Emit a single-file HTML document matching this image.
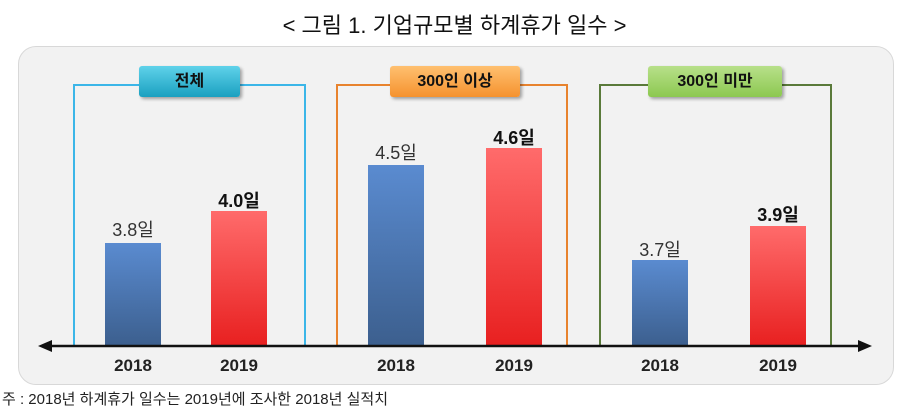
<!DOCTYPE html>
<html><head><meta charset="utf-8"><style>
body{margin:0;width:909px;height:415px;background:#fff;position:relative;overflow:hidden;font-family:"Liberation Sans","Noto Sans CJK KR",sans-serif}
.a{position:absolute}
.title{left:0;width:909px;top:8px;text-align:center;font-size:22px;color:#111}
.panel{left:18px;top:46px;width:874px;height:337px;background:#f2f2f2;border:1px solid #d8d8d8;border-radius:18px}
.box{top:84px;height:262px;border:2px solid;border-bottom:none;box-sizing:border-box}
.lab{top:66px;height:31px;text-align:center;line-height:31px;font-weight:bold;font-size:16px;color:#111;border-radius:3px;box-shadow:2px 2px 3px rgba(0,0,0,.35)}
.blue{background:linear-gradient(#5a8bd0,#3c5f8e)}
.red{background:linear-gradient(#ff6b6b,#e82020)}
.v{text-align:center;width:90px;font-size:18px;color:#333}
.b{font-weight:bold;color:#111}
.yr{top:356px;width:80px;text-align:center;font-weight:bold;font-size:17px;color:#222}
</style></head><body>
<div class="a title">&lt; 그림 1. 기업규모별 하계휴가 일수 &gt;</div>
<div class="a panel"></div>
<div class="a box" style="left:73px;width:233px;border-color:#3cb6e8"></div>
<div class="a box" style="left:336px;width:232px;border-color:#e8832e"></div>
<div class="a box" style="left:599px;width:233px;border-color:#5a7a3a"></div>
<div class="a lab" style="left:139px;width:101px;background:linear-gradient(#5fd2ea,#1aa0c0)">전체</div>
<div class="a lab" style="left:390px;width:130px;background:linear-gradient(#ffc070,#f5922e)">300인 이상</div>
<div class="a lab" style="left:648px;width:134px;background:linear-gradient(#b8e08a,#8cc850)">300인 미만</div>

<div class="a blue" style="left:105px;width:56px;top:243px;height:103px"></div>
<div class="a red" style="left:211px;width:56px;top:211px;height:135px"></div>
<div class="a blue" style="left:368px;width:56px;top:165px;height:181px"></div>
<div class="a red" style="left:486px;width:56px;top:148px;height:198px"></div>
<div class="a blue" style="left:632px;width:56px;top:260px;height:86px"></div>
<div class="a red" style="left:750px;width:56px;top:226px;height:120px"></div>

<div class="a v" style="left:88px;top:216px">3.8일</div>
<div class="a v b" style="left:194px;top:187px">4.0일</div>
<div class="a v" style="left:351px;top:139px">4.5일</div>
<div class="a v b" style="left:469px;top:124px">4.6일</div>
<div class="a v" style="left:615px;top:236px">3.7일</div>
<div class="a v b" style="left:733px;top:201px">3.9일</div>

<svg class="a" style="left:0;top:0" width="909" height="415">
<line x1="48" y1="346" x2="862" y2="346" stroke="#111" stroke-width="2.5"/>
<polygon points="38,346 52,340 52,352" fill="#111"/>
<polygon points="872,346 858,340 858,352" fill="#111"/>
</svg>
<div class="a yr" style="left:93px">2018</div>
<div class="a yr" style="left:199px">2019</div>
<div class="a yr" style="left:356px">2018</div>
<div class="a yr" style="left:474px">2019</div>
<div class="a yr" style="left:620px">2018</div>
<div class="a yr" style="left:738px">2019</div>
<div class="a" style="left:2px;top:388px;font-size:15px;color:#222">주 : 2018년 하계휴가 일수는 2019년에 조사한 2018년 실적치</div>
</body></html>
